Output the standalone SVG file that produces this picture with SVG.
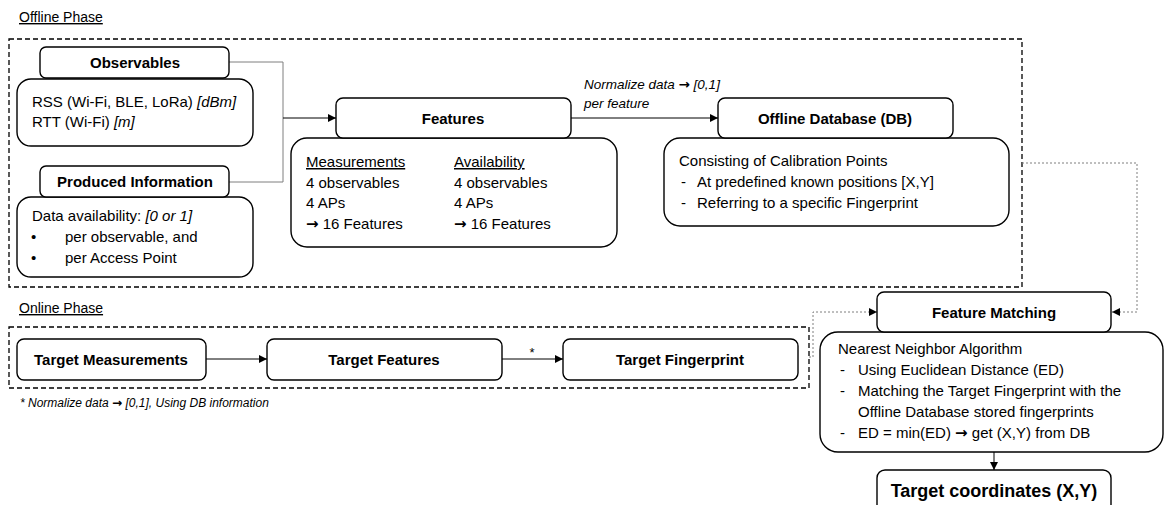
<svg xmlns="http://www.w3.org/2000/svg" width="1164" height="505" viewBox="0 0 1164 505">
  <style>
    text { font-family: "Liberation Sans", Arial, sans-serif; fill: #000; }
    .hdr { font-size: 15px; font-weight: bold; text-anchor: middle; }
    .txt { font-size: 15px; }
    .it { font-style: italic; }
    .small { font-size: 13.5px; font-style: italic; }
    .foot { font-size: 12px; font-style: italic; }
    .phase { font-size: 14px; text-decoration: underline; }
    .ul { text-decoration: underline; }
    .ar { font-family: "DejaVu Sans", sans-serif; font-weight: bold; font-style: normal; }
    .box { fill: #fff; stroke: #000; stroke-width: 1.4; }
    .frame { fill: none; stroke: #000; stroke-width: 1.3; stroke-dasharray: 5 3; }
    .link { fill: none; stroke: #000; stroke-width: 1; }
    .grey { fill: none; stroke: #7f7f7f; stroke-width: 1; }
    .dot { fill: none; stroke: #7f7f7f; stroke-width: 1; stroke-dasharray: 2 2; }
  </style>
  <defs>
    <marker id="arr" viewBox="0 0 10 10" refX="10" refY="5" markerWidth="8" markerHeight="8" markerUnits="userSpaceOnUse" orient="auto">
      <path d="M0,0 L10,5 L0,10 z" fill="#000"/>
    </marker>
  </defs>

  <!-- phase frames -->
  <g id="offline-phase">
    <text class="phase" x="19" y="22">Offline Phase</text>
    <rect class="frame" x="9" y="39" width="1013" height="248"/>
  </g>
  <g id="online-phase">
    <text class="phase" x="19" y="313">Online Phase</text>
    <rect class="frame" x="9" y="327" width="800" height="61"/>
    <text class="foot" x="20" y="407">* Normalize data <tspan class="ar">→</tspan> [0,1], Using DB information</text>
  </g>

  <!-- connectors -->
  <g id="connectors">
    <path class="grey" d="M229,62 H283 V182 H229"/>
    <path class="link" d="M283,118 H336" marker-end="url(#arr)"/>
    <path class="link" d="M571,118 H718" marker-end="url(#arr)"/>
    <text class="small" x="584" y="89">Normalize data <tspan class="ar">→</tspan> [0,1]</text>
    <text class="small" x="584" y="108">per feature</text>
    <path class="dot" d="M1022,163 H1137 V312 H1112" marker-end="url(#arr)"/>
    <path class="dot" d="M809,357 H813 V312 H877" marker-end="url(#arr)"/>
    <path class="link" d="M206,359 H267" marker-end="url(#arr)"/>
    <path class="link" d="M502,359 H563" marker-end="url(#arr)"/>
    <text class="txt" x="532" y="357" text-anchor="middle" style="font-size:13px">*</text>
    <path class="link" d="M994,452 V470" marker-end="url(#arr)"/>
  </g>

  <!-- Observables -->
  <g id="observables">
    <rect class="box" x="17" y="79" width="236" height="67" rx="14"/>
    <rect class="box" x="40" y="47" width="189" height="31" rx="6"/>
    <text class="hdr" x="135" y="68">Observables</text>
    <text class="txt" x="32" y="107">RSS (Wi-Fi, BLE, LoRa) <tspan class="it">[dBm]</tspan></text>
    <text class="txt" x="32" y="127">RTT (Wi-Fi) <tspan class="it">[m]</tspan></text>
  </g>

  <!-- Produced Information -->
  <g id="produced-information">
    <rect class="box" x="17" y="197" width="236" height="80" rx="14"/>
    <rect class="box" x="40" y="166" width="189" height="31" rx="6"/>
    <text class="hdr" x="135" y="187">Produced Information</text>
    <text class="txt" x="32" y="221">Data availability: <tspan class="it">[0 or 1]</tspan></text>
    <text class="txt" x="31" y="242">•</text>
    <text class="txt" x="65" y="242">per observable, and</text>
    <text class="txt" x="31" y="263">•</text>
    <text class="txt" x="65" y="263">per Access Point</text>
  </g>

  <!-- Features -->
  <g id="features">
    <rect class="box" x="291" y="138" width="326" height="109" rx="16"/>
    <rect class="box" x="336" y="98" width="235" height="40" rx="7"/>
    <text class="hdr" x="453" y="124">Features</text>
    <text class="txt ul" x="306" y="167">Measurements</text>
    <text class="txt" x="306" y="188">4 observables</text>
    <text class="txt" x="306" y="208">4 APs</text>
    <text class="txt" x="306" y="229"><tspan class="ar">→</tspan> 16 Features</text>
    <text class="txt ul" x="454" y="167">Availability</text>
    <text class="txt" x="454" y="188">4 observables</text>
    <text class="txt" x="454" y="208">4 APs</text>
    <text class="txt" x="454" y="229"><tspan class="ar">→</tspan> 16 Features</text>
  </g>

  <!-- Offline Database -->
  <g id="offline-database">
    <rect class="box" x="664" y="138" width="345" height="88" rx="16"/>
    <rect class="box" x="718" y="98" width="235" height="40" rx="7"/>
    <text class="hdr" x="835" y="124">Offline Database (DB)</text>
    <text class="txt" x="679" y="166">Consisting of Calibration Points</text>
    <text class="txt" x="681" y="187">-</text>
    <text class="txt" x="697" y="187">At predefined known positions [X,Y]</text>
    <text class="txt" x="681" y="208">-</text>
    <text class="txt" x="697" y="208">Referring to a specific Fingerprint</text>
  </g>

  <!-- Online chain -->
  <g id="target-measurements">
    <rect class="box" x="17" y="339" width="189" height="41" rx="7"/>
    <text class="hdr" x="111" y="365">Target Measurements</text>
  </g>
  <g id="target-features">
    <rect class="box" x="267" y="339" width="235" height="41" rx="7"/>
    <text class="hdr" x="384" y="365">Target Features</text>
  </g>
  <g id="target-fingerprint">
    <rect class="box" x="563" y="339" width="235" height="41" rx="7"/>
    <text class="hdr" x="680" y="365">Target Fingerprint</text>
  </g>

  <!-- Feature Matching -->
  <g id="feature-matching">
    <rect class="box" x="820" y="332" width="343" height="120" rx="18"/>
    <rect class="box" x="877" y="292" width="234" height="40" rx="7"/>
    <text class="hdr" x="994" y="318">Feature Matching</text>
    <text class="txt" x="838" y="354">Nearest Neighbor Algorithm</text>
    <text class="txt" x="840" y="375">-</text>
    <text class="txt" x="858" y="375">Using Euclidean Distance (ED)</text>
    <text class="txt" x="840" y="396">-</text>
    <text class="txt" x="858" y="396">Matching the Target Fingerprint with the</text>
    <text class="txt" x="858" y="417">Offline Database stored fingerprints</text>
    <text class="txt" x="840" y="438">-</text>
    <text class="txt" x="858" y="438">ED = min(ED) <tspan class="ar">→</tspan> get (X,Y) from DB</text>
  </g>

  <!-- Target coordinates -->
  <g id="target-coordinates">
    <rect class="box" x="877" y="470" width="234" height="50" rx="8"/>
    <text class="hdr" x="994" y="497" style="font-size:18px">Target coordinates (X,Y)</text>
  </g>
</svg>
